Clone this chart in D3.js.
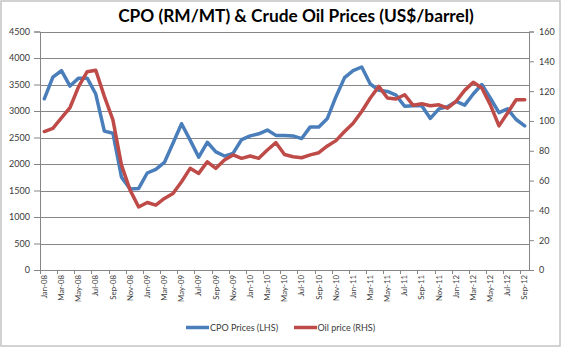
<!DOCTYPE html>
<html><head><meta charset="utf-8">
<script src="https://cdn.jsdelivr.net/npm/d3@7"></script>
<style>
html,body{margin:0;padding:0;background:#fff;}
svg{display:block;font-family:Lato,"Open Sans",sans-serif;}
</style></head><body>
<svg id="c" width="563" height="348"></svg>
<script>
const categories = ["Jan-08","Feb-08","Mar-08","Apr-08","May-08","Jun-08","Jul-08","Aug-08","Sep-08","Oct-08","Nov-08","Dec-08",
"Jan-09","Feb-09","Mar-09","Apr-09","May-09","Jun-09","Jul-09","Aug-09","Sep-09","Oct-09","Nov-09","Dec-09",
"Jan-10","Feb-10","Mar-10","Apr-10","May-10","Jun-10","Jul-10","Aug-10","Sep-10","Oct-10","Nov-10","Dec-10",
"Jan-11","Feb-11","Mar-11","Apr-11","May-11","Jun-11","Jul-11","Aug-11","Sep-11","Oct-11","Nov-11","Dec-11",
"Jan-12","Feb-12","Mar-12","Apr-12","May-12","Jun-12","Jul-12","Aug-12","Sep-12"];
const cpoPrices = [3230,3640,3760,3470,3620,3620,3320,2620,2580,1750,1530,1540,
1830,1900,2030,2390,2760,2450,2130,2410,2230,2150,2200,2460,
2530,2570,2640,2540,2540,2530,2480,2700,2700,2860,3270,3630,
3760,3830,3510,3390,3370,3300,3090,3100,3100,2860,3040,3080,
3180,3110,3320,3500,3240,2970,3040,2840,2720];
const oilPrices = [92.9,95,102,109,123,133,134,116.5,100.7,70.4,53.6,42.3,
45.3,43.5,48,51.3,59.2,68.2,64.8,72.6,68.2,73.8,77.2,74.9,
76.5,74.9,80.5,85.4,77.5,76,75.3,77.2,78.7,83.2,86.8,92.9,
98.5,106.3,115.4,123.2,115.4,114.7,117.6,110.5,111.5,110.2,110.8,108.6,
113.1,120.5,125.9,122.1,110.8,96.7,105.3,114.2,114.2];
const leftTicks = [0,500,1000,1500,2000,2500,3000,3500,4000,4500];
const rightTicks = [0,20,40,60,80,100,120,140,160];
const seriesNames = ["CPO Prices (LHS)","Oil price (RHS)"];
const title = "CPO (RM/MT) & Crude Oil Prices (US$/barrel)";

const svg = d3.select("#c");
const L = 40, R = 529, T = 31.5, B = 270;
const blue = "#4a7ebb", red = "#be4b48", axisCol = "#868686", txtCol = "#3a3a3a";

svg.append("rect").attr("x",1).attr("y",1).attr("width",559).attr("height",345)
  .attr("fill","#fff").attr("stroke","#c4c4c4").attr("stroke-width",1.5);

const x = d3.scaleBand().domain(categories).range([L,R]).padding(0);
const yL = d3.scaleLinear().domain([0,4500]).range([B,T]);
const yR = d3.scaleLinear().domain([0,160]).range([B,T]);
const cx = c => x(c) + x.bandwidth()/2;

// gridlines
svg.append("g").selectAll("line").data(leftTicks).join("line")
  .attr("x1",L).attr("x2",R).attr("y1",d=>Math.round(yL(d))+0.5).attr("y2",d=>Math.round(yL(d))+0.5)
  .attr("stroke",axisCol).attr("stroke-width",1);

// left axis
const gl = svg.append("g").attr("transform",`translate(${L},0)`)
  .call(d3.axisLeft(yL).tickValues(leftTicks).tickSize(6).tickPadding(4).tickFormat(d3.format("d")));
gl.select(".domain").attr("stroke",axisCol);
gl.selectAll(".tick line").attr("stroke",axisCol);
gl.selectAll("text").attr("fill",txtCol).style("font-size","9px").style("font-family","Lato");

// right axis
const gr = svg.append("g").attr("transform",`translate(${R},0)`)
  .call(d3.axisRight(yR).tickValues(rightTicks).tickSize(5).tickPadding(5).tickFormat(d3.format("d")));
gr.select(".domain").attr("stroke",axisCol);
gr.selectAll(".tick line").attr("stroke",axisCol);
gr.selectAll("text").attr("fill",txtCol).style("font-size","9px").style("font-family","Lato");

// x axis
const shown = categories.filter((c,i)=>i%2===0);
const gx = svg.append("g");
gx.append("line").attr("x1",L).attr("x2",R).attr("y1",B+0.5).attr("y2",B+0.5).attr("stroke",axisCol);
gx.selectAll("line.t").data(shown).join("line").attr("class","t")
  .attr("x1",d=>Math.round(x(d))+0.5).attr("x2",d=>Math.round(x(d))+0.5)
  .attr("y1",B).attr("y2",B+4).attr("stroke",axisCol);
gx.selectAll("text").data(shown).join("text")
  .attr("transform",d=>`translate(${cx(d)},${B+5}) rotate(-90)`)
  .attr("text-anchor","end").attr("dy","0.35em")
  .attr("fill",txtCol).style("font-size","7.8px").text(d=>d);

// lines
const lineL = d3.line().x((d,i)=>cx(categories[i])).y(d=>yL(d));
const lineR = d3.line().x((d,i)=>cx(categories[i])).y(d=>yR(d));
svg.append("path").datum(cpoPrices).attr("d",lineL).attr("fill","none")
  .attr("stroke",blue).attr("stroke-width",3.5).attr("stroke-linejoin","round").attr("stroke-linecap","round");
svg.append("path").datum(oilPrices).attr("d",lineR).attr("fill","none")
  .attr("stroke",red).attr("stroke-width",3.5).attr("stroke-linejoin","round").attr("stroke-linecap","round");

// title
const tt = svg.append("text").attr("x",296).attr("y",22).attr("text-anchor","middle")
  .style("font-weight","bold").style("font-size","17px").attr("fill","#000").text(title);
const w = tt.node().getComputedTextLength();
tt.style("font-size",(17*356/w).toFixed(2)+"px");

// legend
const leg = [{x1:186,x2:209,tx:210,c:blue,n:seriesNames[0]},{x1:294,x2:317,tx:317.5,c:red,n:seriesNames[1]}];
leg.forEach(l=>{
  svg.append("line").attr("x1",l.x1).attr("x2",l.x2).attr("y1",327.5).attr("y2",327.5)
    .attr("stroke",l.c).attr("stroke-width",3.5);
  svg.append("text").attr("x",l.tx).attr("y",327.5).attr("dy","0.35em")
    .attr("fill",txtCol).style("font-size","9px").text(l.n);
});
</script>
</body></html>
